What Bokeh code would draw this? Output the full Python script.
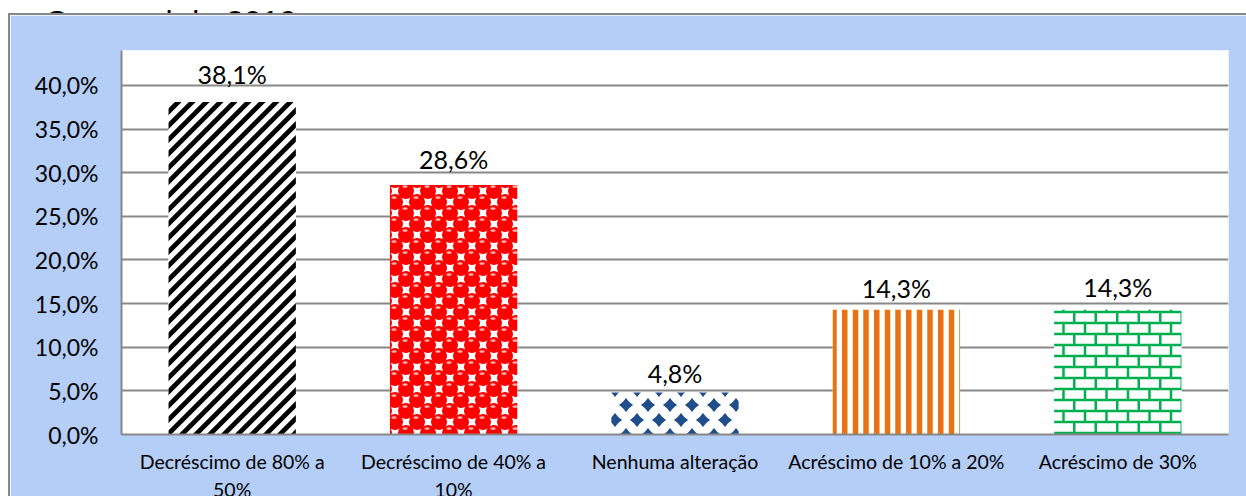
import base64
import struct
import zlib

import numpy as np
from bokeh.plotting import figure
from bokeh.layouts import column
from bokeh.models import (ColumnDataSource, CustomJSTickFormatter, LabelSet, Div,
                          FixedTicker, Range1d, FactorRange, CategoricalAxis, ImageURLTexture)
from bokeh.core.properties import value
from bokeh.embed import file_html
from bokeh.resources import INLINE

# ---- data ----
categories = ["Decréscimo de 80% a", "Decréscimo de 40% a",
              "Nenhuma alteração", "Acréscimo de 10% a 20%", "Acréscimo de 30%"]
tick_line2 = ["50%", "10%", "", "", ""]
values = [38.1, 28.6, 4.8, 14.3, 14.3]
value_labels = ["38,1%", "28,6%", "4,8%", "14,3%", "14,3%"]
y_ticks = [0, 5, 10, 15, 20, 25, 30, 35, 40]
title_text = "ao Carnaval de 2019."

# ---- styles ----
BLUE = "#b4cef8"
GRAY = "#888888"
FONT = "Lato"


def png_uri(rgb):
    h, w, _ = rgb.shape
    raw = b"".join(b"\x00" + rgb[r].tobytes() for r in range(h))

    def chunk(t, d):
        return struct.pack(">I", len(d)) + t + d + struct.pack(">I", zlib.crc32(t + d) & 0xffffffff)

    png = (b"\x89PNG\r\n\x1a\n" + chunk(b"IHDR", struct.pack(">IIBBBBB", w, h, 8, 2, 0, 0, 0))
           + chunk(b"IDAT", zlib.compress(raw)) + chunk(b"IEND", b""))
    return "data:image/png;base64," + base64.b64encode(png).decode()


def tile(w, h, painter, ss=4):
    ys, xs = np.mgrid[0:h * ss, 0:w * ss]
    x = (xs + 0.5) / ss
    y = (ys + 0.5) / ss
    img = np.full((h * ss, w * ss, 3), 255.0)
    painter(img, x, y)
    img = img.reshape(h, ss, w, ss, 3).mean(axis=(1, 3))
    return png_uri(np.clip(img + 0.5, 0, 255).astype(np.uint8))


def paint_stripes(img, x, y):
    img[((x + y) % 14) < 6.6] = (0, 0, 0)


def paint_balls(img, x, y):
    s = 22
    centres = [(0, 0), (s, 0), (0, s), (s, s), (s / 2, s / 2)]
    for cx, cy in centres:
        img[(x - cx) ** 2 + (y - cy) ** 2 < 7.9 ** 2] = (255, 0, 0)
    for cx, cy in centres:
        img[((x - cx + 1) / 2.6) ** 2 + ((y - cy + 4.4) / 1.3) ** 2 < 1] = (255, 175, 175)


def paint_diamonds(img, x, y):
    for cx, cy in [(0, 0), (22, 0), (0, 30), (22, 30), (11, 15)]:
        m = np.abs(x - cx) ** 0.85 + np.abs(y - cy) ** 0.85 < 7.3 ** 0.85
        img[m] = (31, 78, 138)


def paint_vstripes(img, x, y):
    img[(x % (32 / 3)) < 5.5] = (233, 115, 17)


def paint_bricks(img, x, y):
    rh, bw = 11, 21.5
    hy = y % rh
    horiz = np.minimum(hy, rh - hy) < 1.25
    row = np.floor(y / rh) % 2
    dx = (x - row * bw / 2) % bw
    vert = np.minimum(dx, bw - dx) < 1.25
    img[horiz | vert] = (0, 176, 80)


textures = {
    "stripes": ImageURLTexture(url=tile(14, 14, paint_stripes)),
    "balls": ImageURLTexture(url=tile(22, 22, paint_balls)),
    "diamonds": ImageURLTexture(url=tile(22, 30, paint_diamonds)),
    "vstripes": ImageURLTexture(url=tile(32, 2, paint_vstripes)),
    "bricks": ImageURLTexture(url=tile(43, 22, paint_bricks)),
}
bar_patterns = ["stripes", "balls", "diamonds", "vstripes", "bricks"]
label_offsets = [18, 16, 10, 12, 13]

src = ColumnDataSource(dict(cat=categories, val=values, lab=value_labels,
                            pat=bar_patterns, off=label_offsets))

# canvas starts at page (10, 15): 8px white margin + 2px box border on the left,
# 13px caption strip + 2px box border on top
p = figure(x_range=categories, y_range=Range1d(0, 44),
           frame_width=1105, frame_height=382,
           min_border_left=111, min_border_right=20, min_border_top=35, min_border_bottom=64,
           output_backend="svg", toolbar_location=None)
p.styles = {"margin-left": "8px", "border-top": "2px solid #888888",
            "border-left": "2px solid #888888"}
p.border_fill_color = BLUE
p.background_fill_color = "white"
p.outline_line_color = None

p.vbar(x="cat", top="val", width=0.575, source=src, fill_color="white",
       hatch_pattern="pat", hatch_extra=textures, line_color=None)

p.add_layout(LabelSet(x="cat", y="val", text="lab", source=src, text_align="center",
                      text_baseline="alphabetic", y_offset="off", text_font=value(FONT),
                      text_font_size=value("25px"), text_color="black"))

# axes
p.xgrid.grid_line_color = None
p.ygrid.grid_line_color = GRAY
p.ygrid.grid_line_width = 2
p.yaxis.ticker = FixedTicker(ticks=y_ticks)
p.yaxis.formatter = CustomJSTickFormatter(code="return tick.toFixed(1).replace('.', ',') + '%';")

# second line of the wrapped category labels: a second categorical axis
line2_factors = [t if t else " " * (i + 1) for i, t in enumerate(tick_line2)]
p.extra_x_ranges = {"line2": FactorRange(factors=line2_factors)}
ax2 = CategoricalAxis(x_range_name="line2")
p.add_layout(ax2, "below")

for ax in (p.xaxis[0], p.yaxis[0], ax2):
    ax.axis_line_color = GRAY
    ax.axis_line_width = 2
    ax.major_tick_line_color = None
    ax.minor_tick_line_color = None
    ax.major_tick_out = 0
    ax.major_tick_in = 0
    ax.major_label_text_font = FONT
    ax.major_label_text_color = "black"
ax2.axis_line_color = None
p.yaxis.major_label_text_font_size = "23px"
p.yaxis.major_label_standoff = 23
p.xaxis[0].major_label_text_font_size = "19.5px"
p.xaxis[0].major_label_standoff = 15
ax2.major_label_text_font_size = "19.5px"
ax2.major_label_standoff = 2

# cropped caption line above the chart box (only its lower part is visible)
title = Div(text=('<div style="margin-top:-22px;line-height:normal;white-space:nowrap;">'
                  + title_text + '</div>'),
            width=1246, height=13, margin=0,
            styles={"font-family": "Liberation Sans", "font-size": "32px",
                    "overflow": "hidden", "color": "black"})

layout = column(title, p, spacing=0)
open("out.html", "w").write(file_html(layout, INLINE))
